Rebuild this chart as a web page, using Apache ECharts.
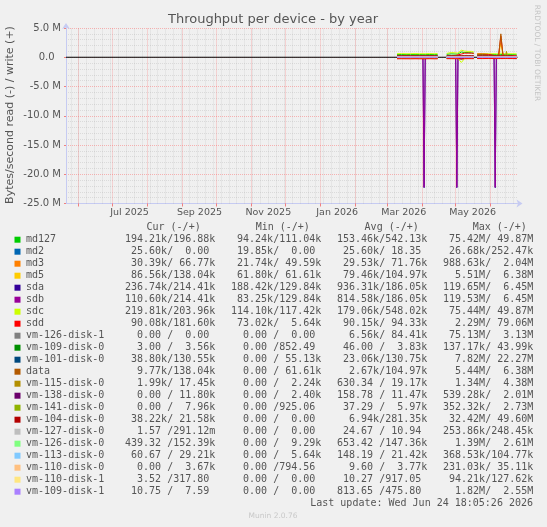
<!DOCTYPE html>
<html>
<head>
<meta charset="utf-8">
<script src="https://cdn.jsdelivr.net/npm/echarts@6/dist/echarts.min.js"></script>
<style>
html, body { margin: 0; padding: 0; background: #f0f0f0; }
#main { width: 547px; height: 527px; }
</style>
</head>
<body>
<div id="main"></div>
<script>
// sample days (UTC); the null rows break the line where munin had no data
const dates = ['2026-03-10','2026-03-14','2026-03-18','2026-03-22','2026-03-26','2026-03-30','2026-04-02','2026-04-03','2026-04-04','2026-04-08','2026-04-12','2026-04-15',
  '2026-04-19',
  '2026-04-23','2026-04-27','2026-05-01','2026-05-02','2026-05-03','2026-05-06','2026-05-09','2026-05-12','2026-05-15','2026-05-17',
  '2026-05-18',
  '2026-05-20','2026-05-25','2026-05-30','2026-06-04','2026-06-05','2026-06-06','2026-06-08','2026-06-10','2026-06-12','2026-06-14','2026-06-15','2026-06-16','2026-06-20','2026-06-24'];

// values in MB/s, write (+) and read (-, stored positive)
const md127W = [0.45,0.47,0.45,0.48,0.45,0.47,0.45,0.45,0.45,0.47,0.45,0.45,null,0.50,0.58,0.55,0.55,0.55,0.90,0.80,0.80,0.75,0.70,null,0.45,0.47,0.45,0.45,0.45,0.45,0.45,0.50,0.45,0.45,0.47,0.45,0.45,0.43];
const md127R = [0.15,0.16,0.15,0.15,0.16,0.15,0.15,0.20,0.15,0.15,0.16,0.15,null,0.15,0.16,0.15,0.18,0.15,0.30,0.16,0.15,0.15,0.15,null,0.15,0.15,0.16,0.15,0.18,0.15,0.15,0.16,0.15,0.15,0.15,0.15,0.16,0.19];
const md2W = [0,0,0,0,0,0,0,0,0,0,0,0,null,0,0,0,0,0,0,0,0,0,0,null,0,0,0,0,0,0,0,0,0,0,0,0,0,0];
const md2R = [0.026,0.025,0.026,0.026,0.025,0.026,0.026,0.026,0.025,0.026,0.026,0.026,null,0.026,0.025,0.026,0.026,0.026,0.025,0.026,0.026,0.026,0.026,null,0.026,0.025,0.026,0.026,0.026,0.026,0.025,0.026,0.026,0.026,0.025,0.026,0.026,0.026];
const md3W = [0.07,0.07,0.08,0.07,0.07,0.07,0.07,0.07,0.07,0.08,0.07,0.07,null,0.07,0.07,0.08,0.07,0.07,0.08,0.07,0.07,0.07,0.07,null,0.07,0.07,0.07,0.08,0.07,0.07,0.07,0.09,0.07,0.07,0.07,0.07,0.07,0.07];
const md3R = [0.03,0.03,0.03,0.03,0.03,0.03,0.03,0.03,0.03,0.03,0.03,0.03,null,0.03,0.03,0.03,0.03,0.03,0.03,0.03,0.03,0.03,0.03,null,0.03,0.03,0.03,0.03,0.03,0.03,0.03,0.03,0.03,0.03,0.03,0.03,0.03,0.03];
const md5W = [0.10,0.10,0.11,0.10,0.10,0.10,0.10,0.10,0.10,0.11,0.10,0.10,null,0.10,0.11,0.10,0.10,0.10,0.12,0.10,0.10,0.10,0.10,null,0.10,0.10,0.10,0.10,0.10,0.10,0.10,2.50,0.10,0.10,0.10,0.10,0.10,0.14];
const md5R = [0.08,0.08,0.08,0.08,0.08,0.08,0.08,0.08,0.08,0.08,0.08,0.08,null,0.08,0.08,0.08,0.08,0.08,0.08,0.08,0.08,0.08,0.08,null,0.08,0.08,0.08,0.08,0.08,0.08,0.08,0.08,0.08,0.08,0.08,0.08,0.08,0.08];
const sdaW = [0.19,0.19,0.18,0.19,0.19,0.19,0.19,0.20,0.19,0.18,0.19,0.19,null,0.19,0.19,0.19,0.20,0.19,0.19,0.19,0.18,0.19,0.19,null,0.19,0.19,0.18,0.19,0.20,0.19,0.19,0.19,0.19,0.18,0.19,0.19,0.19,0.21];
const sdaR = [0.22,0.22,0.21,0.22,0.22,0.22,0.22,22.3,0.22,0.21,0.22,0.22,null,0.22,0.22,0.22,22.3,0.22,0.25,0.22,0.21,0.22,0.22,null,0.22,0.22,0.21,0.22,22.3,0.22,0.22,0.22,0.22,0.21,0.22,0.22,0.22,0.24];
const sdbW = [0.19,0.19,0.19,0.18,0.19,0.19,0.19,0.20,0.19,0.19,0.18,0.19,null,0.19,0.19,0.19,0.20,0.19,0.19,0.18,0.19,0.19,0.19,null,0.19,0.18,0.19,0.19,0.20,0.19,0.19,0.19,0.18,0.19,0.19,0.19,0.19,0.21];
const sdbR = [0.10,0.10,0.10,0.11,0.10,0.10,0.10,22.2,0.10,0.10,0.11,0.10,null,0.10,0.10,0.10,22.2,0.10,0.12,0.10,0.10,0.10,0.10,null,0.10,0.10,0.11,0.10,22.2,0.10,0.10,0.10,0.10,0.10,0.10,0.10,0.11,0.12];
const sdcW = [0.60,0.62,0.60,0.60,0.62,0.60,0.60,0.60,0.60,0.62,0.60,0.62,null,0.65,0.80,0.75,0.75,0.70,1.20,1.05,1.00,1.00,0.90,null,0.60,0.62,0.60,0.60,0.62,0.60,0.60,0.70,0.60,0.60,0.62,0.60,0.60,0.58];
const sdcR = [0.18,0.18,0.17,0.18,0.18,0.18,0.18,0.20,0.18,0.17,0.18,0.18,null,0.18,0.18,0.18,0.20,0.18,0.90,0.18,0.17,0.18,0.18,null,0.18,0.18,0.17,0.18,0.20,0.18,0.18,0.18,0.18,0.17,0.18,0.18,0.18,0.20];
const sddW = [0.05,0.05,0.06,0.05,0.05,0.05,0.05,0.05,0.05,0.06,0.05,0.05,null,0.10,0.15,0.30,0.35,0.40,0.55,0.70,0.70,0.70,0.65,null,0.55,0.55,0.50,0.30,0.30,0.30,0.30,3.60,0.30,0.28,0.30,0.28,0.30,0.25];
const sddR = [0.26,0.25,0.26,0.26,0.25,0.26,0.26,0.28,0.26,0.25,0.26,0.26,null,0.24,0.24,0.24,0.26,0.24,0.30,0.24,0.24,0.24,0.24,null,0.22,0.22,0.22,0.22,0.24,0.22,0.22,0.22,0.22,0.22,0.22,0.22,0.22,0.22];
const vm126d1W = [0.08,0.08,0.09,0.08,0.08,0.08,0.08,0.08,0.08,0.09,0.08,0.08,null,0.08,0.08,0.08,0.08,0.08,0.09,0.08,0.08,0.08,0.08,null,0.08,0.08,0.08,0.08,0.08,0.08,0.08,0.09,0.08,0.08,0.08,0.08,0.08,0.08];
const vm126d1R = [0.007,0.007,0.007,0.007,0.007,0.007,0.007,0.007,0.007,0.007,0.007,0.007,null,0.007,0.007,0.007,0.007,0.007,0.007,0.007,0.007,0.007,0.007,null,0.007,0.007,0.007,0.007,0.007,0.007,0.007,0.007,0.007,0.007,0.007,0.007,0.007,0.007];
const vm109d0W = [0.004,0.004,0.004,0.004,0.004,0.004,0.004,0.004,0.004,0.004,0.004,0.004,null,0.004,0.004,0.004,0.004,0.004,0.004,0.004,0.004,0.004,0.004,null,0.004,0.004,0.004,0.004,0.004,0.004,0.004,0.004,0.004,0.004,0.004,0.004,0.004,0.004];
const vm109d0R = [0,0,0,0,0,0,0,0,0,0,0,0,null,0,0,0,0,0,0,0,0,0,0,null,0,0,0,0,0,0,0,0,0,0,0,0,0,0];
const vm101W = [0.20,0.21,0.20,0.20,0.21,0.20,0.20,0.20,0.20,0.21,0.20,0.20,null,0.12,0.12,0.11,0.12,0.12,0.13,0.12,0.12,0.11,0.12,null,0.10,0.10,0.10,0.11,0.10,0.10,0.10,0.12,0.10,0.10,0.10,0.10,0.10,0.13];
const vm101R = [0.023,0.023,0.023,0.023,0.023,0.023,0.023,0.023,0.023,0.023,0.023,0.023,null,0.023,0.023,0.023,0.023,0.023,0.023,0.023,0.023,0.023,0.023,null,0.023,0.023,0.023,0.023,0.023,0.023,0.023,0.023,0.023,0.023,0.023,0.023,0.023,0.039];
const dataW = [0.10,0.10,0.11,0.10,0.10,0.10,0.10,0.10,0.10,0.11,0.10,0.10,null,0.10,0.11,0.10,0.10,0.10,0.12,0.10,0.10,0.10,0.10,null,0.10,0.10,0.10,0.10,0.10,0.10,0.10,4.00,0.10,0.10,0.10,0.10,0.10,0.14];
const dataR = [0.003,0.003,0.003,0.003,0.003,0.003,0.003,0.003,0.003,0.003,0.003,0.003,null,0.003,0.003,0.003,0.003,0.003,0.003,0.003,0.003,0.003,0.003,null,0.003,0.003,0.003,0.003,0.003,0.003,0.003,0.003,0.003,0.003,0.003,0.003,0.003,0.010];
const vm115W = [0.02,0.02,0.02,0.02,0.02,0.02,0.02,0.02,0.02,0.02,0.02,0.02,null,0.02,0.02,0.02,0.02,0.02,0.02,0.02,0.02,0.02,0.02,null,0.02,0.02,0.02,0.02,0.02,0.02,0.02,0.02,0.02,0.02,1.00,0.02,0.02,0.02];
const vm115R = [0.001,0.001,0.001,0.001,0.001,0.001,0.001,0.001,0.001,0.001,0.001,0.001,null,0.001,0.001,0.001,0.001,0.001,0.001,0.001,0.001,0.001,0.001,null,0.001,0.001,0.001,0.001,0.001,0.001,0.001,0.001,0.001,0.001,0.001,0.001,0.001,0.002];
const vm138W = [0.011,0.011,0.011,0.011,0.011,0.011,0.011,0.011,0.011,0.011,0.011,0.011,null,0.011,0.011,0.011,0.011,0.011,0.011,0.011,0.011,0.011,0.011,null,0.011,0.011,0.011,0.011,0.011,0.011,0.011,0.011,0.011,0.011,0.011,0.011,0.011,0.012];
const vm138R = [0,0,0,0,0,0,0,0,0,0,0,0,null,0,0,0,0,0,0,0,0,0,0,null,0,0,0,0,0,0,0,0,0,0,0,0,0,0];
const vm141W = [0.006,0.006,0.006,0.006,0.006,0.006,0.006,0.006,0.006,0.006,0.006,0.006,null,0.006,0.006,0.006,0.006,0.006,0.006,0.006,0.006,0.006,0.006,null,0.006,0.006,0.006,0.006,0.006,0.006,0.006,0.006,0.006,0.006,0.006,0.006,0.006,0.008];
const vm141R = [0,0,0,0,0,0,0,0,0,0,0,0,null,0,0,0,0,0,0,0,0,0,0,null,0,0,0,0,0,0,0,0,0,0,0,0,0,0];
const vm104W = [0.28,0.28,0.29,0.28,0.28,0.28,0.28,0.28,0.28,0.29,0.28,0.28,null,0.28,0.28,0.28,0.28,0.28,0.30,0.28,0.28,0.28,0.28,null,0.28,0.28,0.28,0.28,0.28,0.28,0.28,0.30,0.28,0.28,0.28,0.28,0.28,0.02];
const vm104R = [0.007,0.007,0.007,0.007,0.007,0.007,0.007,0.007,0.007,0.007,0.007,0.007,null,0.007,0.007,0.007,0.007,0.007,0.007,0.007,0.007,0.007,0.007,null,0.007,0.007,0.007,0.007,0.007,0.007,0.007,0.007,0.007,0.007,0.007,0.007,0.007,0.038];
const vm127W = [0,0,0,0,0,0,0,0,0,0,0,0,null,0,0,0,0,0,0,0,0,0,0,null,0,0,0,0,0,0,0,0,0,0,0,0,0,0];
const vm127R = [0,0,0,0,0,0,0,0,0,0,0,0,null,0,0,0,0,0,0,0,0,0,0,null,0,0,0,0,0,0,0,0,0,0,0,0,0,0];
const vm126d0W = [0.15,0.15,0.15,0.15,0.15,0.15,0.15,0.15,0.15,0.15,0.15,0.15,null,0.15,0.15,0.15,0.15,0.15,0.16,0.15,0.15,0.15,0.15,null,0.15,0.15,0.15,0.15,0.15,0.15,0.15,0.16,0.15,0.15,0.15,0.15,0.15,0.15];
const vm126d0R = [0.001,0.001,0.001,0.001,0.001,0.001,0.001,0.001,0.001,0.001,0.001,0.001,null,0.001,0.001,0.001,0.001,0.001,0.001,0.001,0.001,0.001,0.001,null,0.001,0.001,0.001,0.001,0.001,0.001,0.001,0.001,0.001,0.001,0.001,0.001,0.001,0.0004];
const vm113W = [0.021,0.021,0.021,0.021,0.021,0.021,0.021,0.021,0.021,0.021,0.021,0.021,null,0.021,0.021,0.021,0.021,0.021,0.021,0.021,0.021,0.021,0.021,null,0.021,0.021,0.021,0.021,0.021,0.021,0.021,0.021,0.021,0.021,0.021,0.021,0.021,0.029];
const vm113R = [0,0,0,0,0,0,0,0,0,0,0,0,null,0,0,0,0,0,0,0,0,0,0,null,0,0,0,0,0,0,0,0,0,0,0,0,0,0];
const vm110d0W = [0.004,0.004,0.004,0.004,0.004,0.004,0.004,0.004,0.004,0.004,0.004,0.004,null,0.004,0.004,0.004,0.004,0.004,0.004,0.004,0.004,0.004,0.004,null,0.004,0.004,0.004,0.004,0.004,0.004,0.004,0.004,0.004,0.004,0.004,0.004,0.004,0.004];
const vm110d0R = [0,0,0,0,0,0,0,0,0,0,0,0,null,0,0,0,0,0,0,0,0,0,0,null,0,0,0,0,0,0,0,0,0,0,0,0,0,0];
const vm110d1W = [0.001,0.001,0.001,0.001,0.001,0.001,0.001,0.001,0.001,0.001,0.001,0.001,null,0.001,0.001,0.001,0.001,0.001,0.001,0.001,0.001,0.001,0.001,null,0.001,0.001,0.001,0.001,0.001,0.001,0.001,0.001,0.001,0.001,0.001,0.001,0.001,0.0003];
const vm110d1R = [0,0,0,0,0,0,0,0,0,0,0,0,null,0,0,0,0,0,0,0,0,0,0,null,0,0,0,0,0,0,0,0,0,0,0,0,0,0];
const vm109d1W = [0.0005,0.0005,0.0005,0.0005,0.0005,0.0005,0.0005,0.0005,0.0005,0.0005,0.0005,0.0005,null,0.0005,0.0005,0.0005,0.0005,0.0005,0.0005,0.0005,0.0005,0.0005,0.0005,null,0.0005,0.0005,0.0005,0.0005,0.0005,0.0005,0.0005,0.0005,0.0005,0.0005,0.0005,0.0005,0.0005,0.0005];
const vm109d1R = [0.001,0.001,0.001,0.001,0.001,0.001,0.001,0.001,0.001,0.001,0.001,0.001,null,0.001,0.001,0.001,0.001,0.001,0.001,0.001,0.001,0.001,0.001,null,0.001,0.001,0.001,0.001,0.001,0.001,0.001,0.001,0.001,0.001,0.001,0.001,0.001,0.001];

const names = ['md127','md2','md3','md5','sda','sdb','sdc','sdd','vm-126-disk-1','vm-109-disk-0','vm-101-disk-0','data',
  'vm-115-disk-0','vm-138-disk-0','vm-141-disk-0','vm-104-disk-0','vm-127-disk-0','vm-126-disk-0','vm-113-disk-0','vm-110-disk-0','vm-110-disk-1','vm-109-disk-1'];
const colors = ['#00cc00','#0066b3','#ff8000','#ffcc00','#330099','#990099','#ccff00','#ff0000','#808080','#008f00','#00487d','#b35a00',
  '#b38f00','#6b006b','#8fb300','#b30000','#bebebe','#80ff80','#80c9ff','#ffc080','#ffe680','#aa80ff'];
const writes = [md127W,md2W,md3W,md5W,sdaW,sdbW,sdcW,sddW,vm126d1W,vm109d0W,vm101W,dataW,vm115W,vm138W,vm141W,vm104W,vm127W,vm126d0W,vm113W,vm110d0W,vm110d1W,vm109d1W];
const reads = [md127R,md2R,md3R,md5R,sdaR,sdbR,sdcR,sddR,vm126d1R,vm109d0R,vm101R,dataR,vm115R,vm138R,vm141R,vm104R,vm127R,vm126d0R,vm113R,vm110d0R,vm110d1R,vm109d1R];

const legendCur = ['194.21k/196.88k',' 25.60k/  0.00 ',' 30.39k/ 66.77k',' 86.56k/138.04k','236.74k/214.41k','110.60k/214.41k','219.81k/203.96k',' 90.08k/181.60k',
  '  0.00 /  0.00 ','  3.00 /  3.56k',' 38.80k/130.55k','  9.77k/138.04k','  1.99k/ 17.45k','  0.00 / 11.80k','  0.00 /  7.96k',' 38.22k/ 21.58k',
  '  1.57 /291.12m','439.32 /152.39k',' 60.67 / 29.21k','  0.00 /  3.67k','  3.52 /317.80 ',' 10.75 /  7.59 '];
const legendMin = [' 94.24k/111.04k',' 19.85k/  0.00 ',' 21.74k/ 49.59k',' 61.80k/ 61.61k','188.42k/129.84k',' 83.25k/129.84k','114.10k/117.42k',' 73.02k/  5.64k',
  '  0.00 /  0.00 ','  0.00 /852.49 ','  0.00 / 55.13k','  0.00 / 61.61k','  0.00 /  2.24k','  0.00 /  2.40k','  0.00 /925.06 ','  0.00 /  0.00 ',
  '  0.00 /  0.00 ','  0.00 /  9.29k','  0.00 /  5.64k','  0.00 /794.56 ','  0.00 /  0.00 ','  0.00 /  0.00 '];
const legendAvg = ['153.46k/542.13k',' 25.60k/ 18.35 ',' 29.53k/ 71.76k',' 79.46k/104.97k','936.31k/186.05k','814.58k/186.05k','179.06k/548.02k',' 90.15k/ 94.33k',
  '  6.56k/ 84.41k',' 46.00 /  3.83k',' 23.06k/130.75k','  2.67k/104.97k','630.34 / 19.17k','158.78 / 11.47k',' 37.29 /  5.97k','  6.94k/281.35k',
  ' 24.67 / 10.94 ','653.42 /147.36k','148.19 / 21.42k','  9.60 /  3.77k',' 10.27 /917.05 ','813.65 /475.80 '];
const legendMax = [' 75.42M/ 49.87M',' 26.68k/252.47k','988.63k/  2.04M','  5.51M/  6.38M','119.65M/  6.45M','119.53M/  6.45M',' 75.44M/ 49.87M','  2.29M/ 79.06M',
  ' 75.13M/  3.13M','137.17k/ 43.99k','  7.82M/ 22.27M','  5.44M/  6.38M','  1.34M/  4.38M','539.28k/  2.01M','352.32k/  2.73M',' 32.42M/ 49.60M',
  '253.86k/248.45k','  1.39M/  2.61M','368.53k/104.77k','231.03k/ 35.11k',' 94.21k/127.62k','  1.82M/  2.55M'];

const xLabels = ['Jul 2025','Sep 2025','Nov 2025','Jan 2026','Mar 2026','May 2026'];
const xLabelDays = ['2025-07-16','2025-09-16','2025-11-16','2026-01-16','2026-03-16','2026-05-16'];

const tMin = Date.parse('2025-05-20T18:05:00Z');
const tMax = Date.parse('2026-06-24T18:05:00Z');
const DAY = 86400000;

const labelTimes = xLabelDays.map(d => Date.parse(d));
const monthStarts = [];
for (let y = 2025, m = 5; y < 2026 || m <= 5; m++) {
  if (m > 11) { m = 0; y++; }
  monthStarts.push(Date.UTC(y, m, 1));
  if (y === 2026 && m === 5) break;
}
const weekLines = [];
for (let t = Date.parse('2025-05-25'); t < tMax; t += 7 * DAY) weekLines.push(t);

const txtColor = '#555';
const axisBlue = '#c6cbf2';
const minorGrid = 'rgba(150,150,150,0.25)';
const majorGrid = 'rgba(255,90,90,0.42)';
const sans = '"DejaVu Sans", sans-serif';
const mono = '"DejaVu Sans Mono", monospace';

const series = [{
  type: 'line', z: 1, silent: true, symbol: 'none',
  data: [[tMin, 0], [tMax, 0]],
  lineStyle: { color: '#000', width: 1 },
  markLine: {
    silent: true, z: 0.5, symbol: ['none', 'none'], label: { show: false }, animation: false,
    data: weekLines.map(t => ({ xAxis: t, lineStyle: { color: minorGrid, type: [1, 1], width: 1 } }))
      .concat(monthStarts.map(t => ({ xAxis: t, lineStyle: { color: majorGrid, type: [1, 1], width: 1 } })))
  }
}];
names.forEach((n, i) => {
  const ts = dates.map(d => Date.parse(d));
  series.push({
    name: n + ' read', type: 'line', z: 2, symbol: 'none', connectNulls: false,
    lineStyle: { color: colors[i], width: 1 },
    data: ts.map((t, k) => [t, reads[i][k] === null ? null : -reads[i][k]])
  });
  series.push({
    name: n + ' write', type: 'line', z: 2, symbol: 'none', connectNulls: false,
    lineStyle: { color: colors[i], width: 1 },
    data: ts.map((t, k) => [t, writes[i][k]])
  });
});

function txt(text, x, y, font, align, extra) {
  return Object.assign({
    type: 'text', x: x, y: y, silent: true,
    style: { text: text, font: font, fill: txtColor, textAlign: align || 'left', textVerticalAlign: 'middle', align: align || 'left', verticalAlign: 'middle' }
  }, extra || {});
}

const graphics = [];
graphics.push(txt('Throughput per device - by year', 273, 20, '13px ' + sans, 'center'));
graphics.push(txt('Bytes/second read (-) / write (+)', 10, 115, '11px ' + sans, 'center', { rotation: Math.PI / 2 }));
const rr = txt('RRDTOOL / TOBI OETIKER', 537, 53, '7.5px ' + sans, 'center', { rotation: -Math.PI / 2 });
rr.style.fill = '#c4c4c4';
graphics.push(rr);

const headY = 227.7;
graphics.push(txt('Cur (-/+)', 146.5, headY, '10px ' + mono));
graphics.push(txt('Min (-/+)', 255.7, headY, '10px ' + mono));
graphics.push(txt('Avg (-/+)', 364.6, headY, '10px ' + mono));
graphics.push(txt('Max (-/+)', 472.7, headY, '10px ' + mono));
names.forEach((n, i) => {
  const y = 239.7 + 12 * i;
  graphics.push({ type: 'rect', silent: true, shape: { x: 14.5, y: y - 3, width: 6, height: 6 }, style: { fill: colors[i] } });
  graphics.push(txt(n, 26, y, '10px ' + mono));
  graphics.push(txt(legendCur[i], 125, y, '10px ' + mono));
  graphics.push(txt(legendMin[i], 231, y, '10px ' + mono));
  graphics.push(txt(legendAvg[i], 337, y, '10px ' + mono));
  graphics.push(txt(legendMax[i], 443, y, '10px ' + mono));
});
graphics.push(txt('Last update: Wed Jun 24 18:05:26 2026', 533, 503.5, '10px ' + mono, 'right'));
const mun = txt('Munin 2.0.76', 273, 516, '7.5px ' + sans, 'center');
mun.style.fill = '#c8c8c8';
graphics.push(mun);

const chart = echarts.init(document.getElementById('main'), null, { renderer: 'canvas' });
chart.setOption({
  animation: false,
  backgroundColor: '#f0f0f0',
  grid: { left: 66, right: 29.5, top: 28, bottom: 323.5, containLabel: false },
  xAxis: {
    type: 'value', min: tMin, max: tMax,
    splitLine: { show: false },
    axisLine: { show: true, onZero: false, lineStyle: { color: axisBlue, width: 1 }, symbol: ['none', 'arrow'], symbolSize: [6, 6], symbolOffset: [0, 5] },
    axisTick: { show: true, customValues: monthStarts, length: 3, lineStyle: { color: '#f08080' } },
    axisLabel: {
      customValues: labelTimes, margin: 4, fontSize: 9.5, fontFamily: sans, color: txtColor,
      formatter: v => {
        let best = 0;
        labelTimes.forEach((t, i) => { if (Math.abs(t - v) < Math.abs(labelTimes[best] - v)) best = i; });
        return xLabels[best];
      }
    }
  },
  yAxis: {
    type: 'value', min: -25, max: 5, interval: 5,
    axisLine: { show: true, onZero: false, lineStyle: { color: axisBlue, width: 1 }, symbol: ['none', 'arrow'], symbolSize: [6, 6], symbolOffset: [0, 5] },
    axisTick: { show: true, length: 2, lineStyle: { color: '#f08080' } },
    axisLabel: {
      margin: 5, fontSize: 10, fontFamily: sans, color: txtColor,
      formatter: v => v === 0 ? '0.0  ' : v.toFixed(1) + ' M'
    },
    splitLine: { show: true, lineStyle: { color: majorGrid, type: [1, 1], width: 1 } },
    minorTick: { show: false, splitNumber: 5 },
    minorSplitLine: { show: true, lineStyle: { color: minorGrid, type: [1, 1], width: 1 } }
  },
  series: series,
  graphic: { elements: graphics }
});
</script>
</body>
</html>
